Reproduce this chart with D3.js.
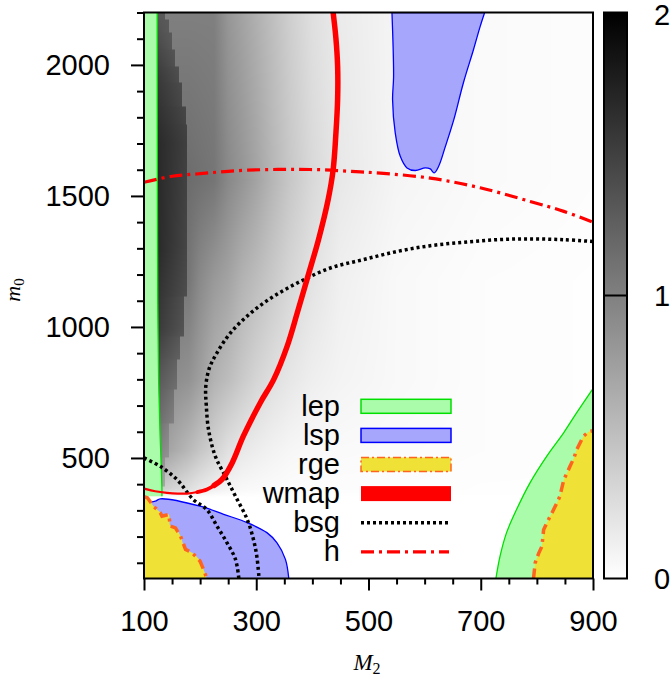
<!DOCTYPE html>
<html><head><meta charset="utf-8">
<script src="https://cdn.jsdelivr.net/npm/d3@7"></script>
<style>html,body{margin:0;padding:0;background:#fff;}svg{display:block}</style>
</head><body>
<svg id="chart" width="672" height="684"></svg>
<script>
// ---------------- data ----------------
const m2Ticks = [100, 300, 500, 700, 900];
const m2Minor = [150, 200, 250, 350, 400, 450, 550, 600, 650, 750, 800, 850];
const m0Ticks = [500, 1000, 1500, 2000];
const m0Minor = [100, 200, 300, 400, 600, 700, 800, 900, 1100, 1200, 1300, 1400, 1600, 1700, 1800, 1900, 2100, 2200];
const cbTicks = [0, 1, 2];
const legendLabels = ["lep", "lsp", "rge", "wmap", "bsg", "h"];

// heat map (values 0..2): smooth part, rows at m0 levels, nodes at m2
const heatM2 = [124, 180, 200, 225, 250, 275, 300, 330, 360, 400, 450, 550, 700, 900];
const heatM0 = [2200, 1560, 1180, 800, 530, 380, 350, 40];
const heatRow2200 = [1.0, 1.0, 1.0, 1.0, 0.82, 0.72, 0.62, 0.5, 0.38, 0.25, 0.16, 0.08, 0.04, 0.02];
const heatRow1560 = [1.15, 1.15, 1.12, 1.08, 0.93, 0.83, 0.72, 0.57, 0.44, 0.3, 0.18, 0.08, 0.04, 0.02];
const heatRow1180 = [1.1, 1.07, 0.92, 0.8, 0.72, 0.6, 0.52, 0.42, 0.32, 0.22, 0.12, 0.05, 0.02, 0.01];
const heatRow800 = [0.95, 0.85, 0.75, 0.6, 0.52, 0.42, 0.33, 0.25, 0.19, 0.13, 0.09, 0.05, 0.02, 0.01];
const heatRow530 = [0.8, 0.55, 0.45, 0.35, 0.24, 0.18, 0.14, 0.1, 0.07, 0.05, 0.04, 0.03, 0.02, 0.01];
const heatRow380 = [0.4, 0.25, 0.18, 0.12, 0.08, 0.05, 0.04, 0.03, 0.02, 0.02, 0.02, 0.02, 0.01, 0.01];
const heatRow350 = [0, 0, 0, 0, 0, 0, 0, 0, 0, 0, 0, 0, 0, 0];
const heatRow40 = [0, 0, 0, 0, 0, 0, 0, 0, 0, 0, 0, 0, 0, 0];
// dark band next to the lep strip: stepped right edge and its values
const bandEdgeM0Top = [2200, 2172, 2122, 2058, 1993, 1932, 1840, 1771, 1118, 962, 875, 760, 630, 500, 390];
const bandEdgeM2 = [138, 144, 150, 156, 162, 168, 174, 177, 171, 165, 159, 153, 144, 138, 132];
const bandM0 = [2200, 2100, 1950, 1700, 1300, 1000, 840, 650, 500, 380];
const bandLeftV = [1.3, 1.4, 1.55, 1.68, 1.68, 1.55, 1.35, 1.15, 0.95, 0.75];
const bandRightV = [1.3, 1.3, 1.4, 1.5, 1.45, 1.35, 1.2, 1.0, 0.85, 0.65];

// lep regions
const lepLeftM2 = [123.5, 123.8, 124.5, 126, 128.5, 131, 132, 132];
const lepLeftM0 = [2200, 1600, 1100, 800, 600, 450, 380, 354];
const lepRightM2 = [727, 734.5, 746, 764, 788, 818, 848, 871, 900];
const lepRightM0 = [40, 126, 215, 304, 406, 508, 597, 673, 765];
// lsp regions
const lspTopM2 = [541.8, 544.7, 542.9, 547.7, 556.6, 568.6, 583.3, 601, 610, 617, 625, 637, 652, 669, 687, 699, 707];
const lspTopM0 = [2200, 1956, 1867, 1740, 1651, 1607, 1597, 1607, 1603, 1588, 1613, 1689, 1791, 1931, 2058, 2147, 2200];
const lspLowM2 = [100, 120, 129, 200, 242, 284, 319, 337, 352, 358];
const lspLowM0 = [330, 335, 344, 316, 285, 253, 215, 176, 113, 40];
// rge regions
const rgeLeftM2 = [100, 106, 117, 129, 132, 144, 147, 156, 165, 174, 186, 200, 206, 212];
const rgeLeftM0 = [352, 348, 316, 291, 278, 284, 240, 233, 202, 151, 138, 106, 75, 40];
const rgeRightM2 = [794, 797, 803, 809, 812, 820, 827, 836, 841, 848, 853, 859, 866, 871, 883, 892, 900];
const rgeRightM0 = [40, 100, 135, 163, 226, 262, 291, 330, 354, 417, 440, 468, 500, 532, 583, 600, 604];
// wmap band
const wmapM2 = [437, 442, 445, 445, 442, 437, 428, 411, 392, 373, 355, 331, 307, 277, 257, 239, 225, 212, 195, 177, 160, 141, 120, 102];
const wmapM0 = [2200, 2100, 1994, 1870, 1741, 1600, 1485, 1334, 1193, 1053, 926, 799, 710, 583, 481, 418, 395, 380, 370, 364, 364, 367, 373, 382];
// bsg contours
const bsg1M2 = [900, 848, 788, 729, 669, 610, 551, 491, 432, 379, 331, 290, 254, 230, 216, 210, 211, 215, 227, 245, 263, 284, 295, 301, 305];
const bsg1M0 = [1326, 1333, 1336, 1333, 1323, 1310, 1288, 1257, 1225, 1174, 1117, 1053, 977, 901, 840, 770, 700, 608, 507, 430, 354, 265, 189, 125, 40];
const bsg2M2 = [100, 129, 159, 188, 212, 230, 248, 263, 269];
const bsg2M0 = [500, 468, 417, 341, 303, 240, 176, 113, 40];
// h contour
const hM2 = [100, 150, 200, 250, 307, 360, 414, 468, 521, 610, 699, 788, 848, 900];
const hM0 = [1552, 1575, 1585, 1594, 1600, 1601, 1600, 1594, 1587, 1568, 1531, 1479, 1441, 1400];

// ---------------- layout ----------------
const P = {left: 144, right: 593, top: 12.5, bottom: 578.5};
const CB = {left: 604, right: 627};
const FONT = "'Liberation Sans', Arial, Helvetica, sans-serif";
const SERIF = "'Liberation Serif', 'Times New Roman', serif";
const x = d3.scaleLinear().domain([100, 900]).range([P.left, P.right]);
const y = d3.scaleLinear().domain([40, 2200]).range([P.bottom, P.top]);
const cb = d3.scaleLinear().domain([0, 2]).range([P.bottom, P.top]);
const grayOf = v => Math.round(255 * (1 - Math.max(0, Math.min(2, v)) / 2));

const svg = d3.select("#chart");
const defs = svg.append("defs");
defs.append("clipPath").attr("id", "clip").append("rect")
  .attr("x", P.left).attr("y", P.top).attr("width", P.right - P.left).attr("height", P.bottom - P.top);

// ---------------- heat map (canvas -> image) ----------------
(function () {
  const W = Math.round(P.right - P.left), H = Math.round(P.bottom - P.top);
  const cv = document.createElement("canvas"); cv.width = W; cv.height = H;
  const ctx = cv.getContext("2d");
  const img = ctx.createImageData(W, H);
  const rows = [heatRow2200, heatRow1560, heatRow1180, heatRow800, heatRow530, heatRow380, heatRow350, heatRow40];
  const rowScales = rows.map(r => d3.scaleLinear().domain(heatM2).range(r).clamp(true));
  const bl = d3.scaleLinear().domain(bandM0).range(bandLeftV).clamp(true);
  const br = d3.scaleLinear().domain(bandM0).range(bandRightV).clamp(true);
  const colVals = [];
  for (let i = 0; i < W; i++) {
    const mx = x.invert(P.left + i + 0.5);
    colVals.push(rowScales.map(s => s(mx)));
  }
  for (let j = 0; j < H; j++) {
    const my = y.invert(P.top + j + 0.5);
    let k = 0;
    while (k < heatM0.length - 2 && my < heatM0[k + 1]) k++;
    const t = Math.max(0, Math.min(1, (heatM0[k] - my) / (heatM0[k] - heatM0[k + 1])));
    let edge = null;
    if (my >= 370) {
      for (let q = bandEdgeM0Top.length - 1; q >= 0; q--) {
        if (my <= bandEdgeM0Top[q]) { edge = bandEdgeM2[q]; break; }
      }
    }
    const vl = bl(my), vr = br(my);
    for (let i = 0; i < W; i++) {
      const mx = x.invert(P.left + i + 0.5);
      let v;
      if (edge !== null && mx < edge) {
        const f = Math.max(0, Math.min(1, (mx - 124) / (edge - 124)));
        v = vl + (vr - vl) * f;
      } else {
        v = colVals[i][k] + (colVals[i][k + 1] - colVals[i][k]) * t;
      }
      const gv = grayOf(v);
      const p = (j * W + i) * 4;
      img.data[p] = gv; img.data[p + 1] = gv; img.data[p + 2] = gv; img.data[p + 3] = 255;
    }
  }
  ctx.putImageData(img, 0, 0);
  svg.append("image").attr("x", P.left).attr("y", P.top).attr("width", W).attr("height", H)
    .attr("preserveAspectRatio", "none").attr("href", cv.toDataURL());
})();

// ---------------- regions ----------------
const pts = (a, b) => a.map((v, i) => [x(v), y(b[i])]);
const smooth = d3.line().curve(d3.curveCatmullRom.alpha(0.5));
const straight = d3.line();
function regionPath(bx, by, cx, cy) {
  let d = smooth(pts(bx, by));
  cx.forEach((v, i) => { d += `L${x(v)},${y(cy[i])}`; });
  return d + "Z";
}
const g = svg.append("g").attr("clip-path", "url(#clip)");
const C = {lepFill: "#aafcaa", lepLine: "#00e000", lspFill: "#a6a6fc", lspLine: "#0000ff",
  rgeFill: "#efe135", rgeLine: "#ff641e", wmap: "#ff0000", bsg: "#000000", h: "#ff0000"};

// lep
g.append("path").attr("d", regionPath(lepLeftM2, lepLeftM0, [100, 100], [354, 2200])).attr("fill", C.lepFill);
g.append("path").attr("d", smooth(pts(lepLeftM2, lepLeftM0))).attr("fill", "none").attr("stroke", C.lepLine).attr("stroke-width", 1.3);
g.append("path").attr("d", regionPath(lepRightM2, lepRightM0, [900], [40])).attr("fill", C.lepFill);
g.append("path").attr("d", smooth(pts(lepRightM2, lepRightM0))).attr("fill", "none").attr("stroke", C.lepLine).attr("stroke-width", 1.3);
// lsp
g.append("path").attr("d", regionPath(lspTopM2, lspTopM0, [], [])).attr("fill", C.lspFill)
  .attr("stroke", C.lspLine).attr("stroke-width", 1.3);
g.append("path").attr("d", regionPath(lspLowM2, lspLowM0, [100], [40])).attr("fill", C.lspFill);
g.append("path").attr("d", smooth(pts(lspLowM2, lspLowM0))).attr("fill", "none").attr("stroke", C.lspLine).attr("stroke-width", 1.3);
// rge
g.append("path").attr("d", regionPath(rgeLeftM2, rgeLeftM0, [100], [40])).attr("fill", C.rgeFill);
g.append("path").attr("d", straight(pts(rgeLeftM2, rgeLeftM0))).attr("fill", "none").attr("stroke", C.rgeLine)
  .attr("stroke-width", 3.5).attr("stroke-dasharray", "10,5,3,5");
g.append("path").attr("d", straight(pts(rgeRightM2, rgeRightM0)) + `L${x(900)},${y(40)}Z`).attr("fill", C.rgeFill);
g.append("path").attr("d", straight(pts(rgeRightM2, rgeRightM0))).attr("fill", "none").attr("stroke", C.rgeLine)
  .attr("stroke-width", 3.5).attr("stroke-dasharray", "10,5,3,5");

// bsg
[[bsg1M2, bsg1M0], [bsg2M2, bsg2M0]].forEach(([a, b]) => {
  g.append("path").attr("d", smooth(pts(a, b))).attr("fill", "none").attr("stroke", C.bsg)
    .attr("stroke-width", 3.5).attr("stroke-dasharray", "3,3");
});
// h
g.append("path").attr("d", smooth(pts(hM2, hM0))).attr("fill", "none").attr("stroke", C.h)
  .attr("stroke-width", 3.2).attr("stroke-dasharray", "13,5,3,5");
// wmap (thick upper part, tapering lower-left part)
const wp = pts(wmapM2, wmapM0);
g.append("path").attr("d", smooth(wp.slice(14))).attr("fill", "none").attr("stroke", C.wmap).attr("stroke-width", 2.2).attr("stroke-linecap", "round");
g.append("path").attr("d", smooth(wp.slice(14, 19))).attr("fill", "none").attr("stroke", C.wmap).attr("stroke-width", 3.8).attr("stroke-linecap", "round");
g.append("path").attr("d", smooth(wp.slice(0, 17))).attr("fill", "none").attr("stroke", C.wmap).attr("stroke-width", 5.5).attr("stroke-linecap", "round");

// ---------------- legend ----------------
const lg = svg.append("g");
const rowY = i => 406.3 + i * 29.1;
legendLabels.forEach((lab, i) => {
  lg.append("text").attr("x", 340).attr("y", rowY(i) + 9.5).attr("text-anchor", "end")
    .attr("font-family", FONT).attr("font-size", 29).attr("fill", "#000").text(lab);
});
const sx0 = 361, sx1 = 451, bh = 14;
lg.append("rect").attr("x", sx0).attr("y", rowY(0) - bh / 2).attr("width", sx1 - sx0).attr("height", bh)
  .attr("fill", C.lepFill).attr("stroke", C.lepLine).attr("stroke-width", 1.5);
lg.append("rect").attr("x", sx0).attr("y", rowY(1) - bh / 2).attr("width", sx1 - sx0).attr("height", bh)
  .attr("fill", C.lspFill).attr("stroke", C.lspLine).attr("stroke-width", 1.5);
lg.append("rect").attr("x", sx0).attr("y", rowY(2) - bh / 2).attr("width", sx1 - sx0).attr("height", bh)
  .attr("fill", C.rgeFill).attr("stroke", C.rgeLine).attr("stroke-width", 1.5).attr("stroke-dasharray", "8,3,2,3");
lg.append("rect").attr("x", sx0).attr("y", rowY(3) - bh / 2 - 0.5).attr("width", sx1 - sx0).attr("height", bh + 1)
  .attr("fill", C.wmap);
lg.append("line").attr("x1", sx0).attr("x2", sx1 - 3).attr("y1", rowY(4)).attr("y2", rowY(4))
  .attr("stroke", C.bsg).attr("stroke-width", 3.5).attr("stroke-dasharray", "3,3");
lg.append("line").attr("x1", sx0).attr("x2", sx1 - 2).attr("y1", rowY(5)).attr("y2", rowY(5))
  .attr("stroke", C.h).attr("stroke-width", 3.2).attr("stroke-dasharray", "13,5,3,5");

// ---------------- axes ----------------
const axStyle = sel => {
  sel.select(".domain").remove();
  sel.selectAll(".tick line").attr("stroke", "#000").attr("stroke-width", 2);
  sel.selectAll("text").attr("font-family", FONT).attr("font-size", 29).attr("fill", "#000");
};
svg.append("g").attr("transform", `translate(${P.left},0)`)
  .call(d3.axisLeft(y).tickValues(m0Ticks).tickSize(13).tickPadding(21).tickFormat(d3.format("d"))).call(axStyle);
svg.append("g").attr("transform", `translate(${P.left},0)`)
  .call(d3.axisLeft(y).tickValues(m0Minor).tickSize(7).tickFormat("")).call(axStyle);
svg.append("g").attr("transform", `translate(0,${P.bottom})`)
  .call(d3.axisBottom(x).tickValues(m2Ticks).tickSize(12).tickPadding(20).tickFormat(d3.format("d"))).call(axStyle);
svg.append("g").attr("transform", `translate(0,${P.bottom})`)
  .call(d3.axisBottom(x).tickValues(m2Minor).tickSize(6).tickFormat("")).call(axStyle);

svg.append("rect").attr("x", P.left).attr("y", P.top).attr("width", P.right - P.left).attr("height", P.bottom - P.top)
  .attr("fill", "none").attr("stroke", "#000").attr("stroke-width", 2);

// axis titles
const xt = svg.append("text").attr("x", 367).attr("y", 670).attr("text-anchor", "middle")
  .attr("font-family", SERIF).attr("font-size", 23).attr("font-style", "italic");
xt.append("tspan").text("M");
xt.append("tspan").attr("font-style", "normal").attr("font-size", 16).attr("dy", 4).text("2");
const yt = svg.append("text").attr("transform", "translate(20,290) rotate(-90)").attr("text-anchor", "middle")
  .attr("font-family", SERIF).attr("font-size", 22).attr("font-style", "italic");
yt.append("tspan").text("m");
yt.append("tspan").attr("font-style", "normal").attr("font-size", 15).attr("dy", 4).text("0");

// ---------------- colour box ----------------
const grad = defs.append("linearGradient").attr("id", "cbgrad").attr("x1", 0).attr("y1", 1).attr("x2", 0).attr("y2", 0);
cbTicks.forEach(v => grad.append("stop").attr("offset", v / 2).attr("stop-color", d3.rgb(grayOf(v), grayOf(v), grayOf(v))));
svg.append("rect").attr("x", CB.left).attr("y", cb(2)).attr("width", CB.right - CB.left).attr("height", cb(0) - cb(2))
  .attr("fill", "url(#cbgrad)").attr("stroke", "#000").attr("stroke-width", 2);
svg.append("line").attr("x1", CB.left).attr("x2", CB.right).attr("y1", cb(1)).attr("y2", cb(1))
  .attr("stroke", "#000").attr("stroke-width", 2);
cbTicks.forEach(v => {
  svg.append("text").attr("x", 654).attr("y", cb(v) + (v === 2 ? 2 : 0)).attr("dy", "0.36em")
    .attr("font-family", FONT).attr("font-size", 29).attr("fill", "#000").text(v);
});
</script>
</body></html>
